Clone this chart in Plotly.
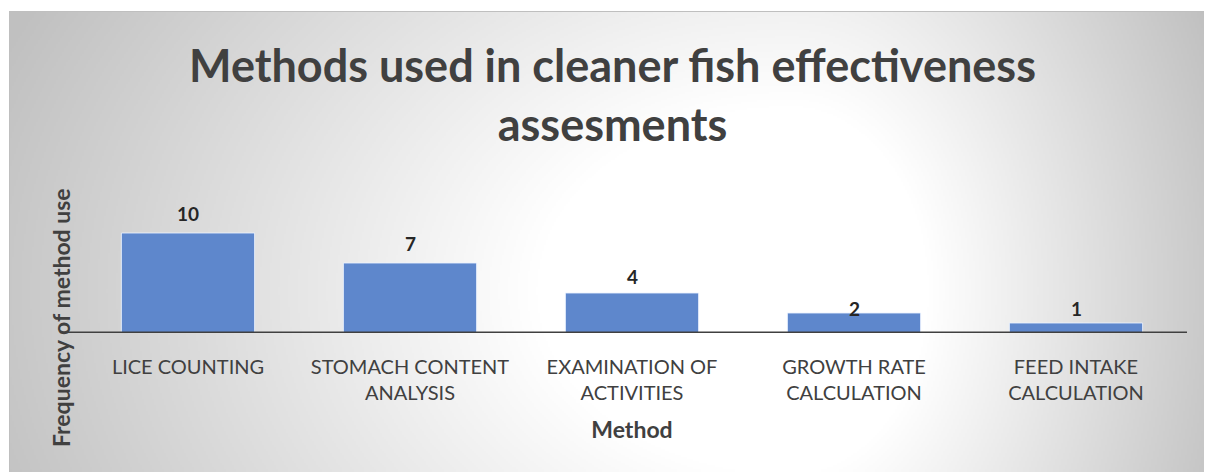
import base64
import struct
import zlib

import numpy as np
import plotly.graph_objects as go

# ---- data ----
categories = [
    "LICE COUNTING",
    "STOMACH CONTENT<br>ANALYSIS",
    "EXAMINATION OF<br>ACTIVITIES",
    "GROWTH RATE<br>CALCULATION",
    "FEED INTAKE<br>CALCULATION",
]
values = [10, 7, 4, 2, 1]
label_shift_px = [20, 20, 17, 5, 15]   # vertical offsets of value labels (style)

title_text = "Methods used in cleaner fish effectiveness<br>assesments"
x_title = "Method"
y_title = "Frequency of method use"

# ---- geometry ----
# the page body has an 8px margin, so the figure sits at (8, 8) of the window
OFF = 8
W, H = 1212 - OFF, 472 - OFF
ML, MR, MT, MB = 69, 25, 172, 139
PW = W - ML - MR
PH = H - MT - MB
YMAX = PH / 10.0


def px_x(page_px):
    return (page_px - OFF - ML) / PW


def px_y(page_py):
    return (H - MB - (page_py - OFF)) / PH


# ---- background gradient (decorative) ----
def gradient_png():
    sx, sy = 2, 2
    x0, y0, x1, y1 = 9, 11, 1212, 472
    w = (x1 - x0) // sx
    h = (y1 - y0) // sy
    xs = x0 + (np.arange(w) + 0.5) * sx
    ys = y0 + (np.arange(h) + 0.5) * sy
    X, Y = np.meshgrid(xs, ys)
    cx, cy = 790.0, 290.0
    dx = np.where(X < cx, (X - cx) / 770.0, (X - cx) / 420.0)
    dy = (Y - cy) / 560.0
    d = np.sqrt(dx ** 2 + dy ** 2)
    g = 255 - 54 * np.clip((d - 0.33) / 0.67, 0, None)
    g = np.clip(g, 192, 255).astype(np.uint8)
    raw = b"".join(b"\x00" + row.tobytes() for row in g)

    def chunk(t, data):
        return (struct.pack(">I", len(data)) + t + data
                + struct.pack(">I", zlib.crc32(t + data) & 0xFFFFFFFF))

    ihdr = struct.pack(">IIBBBBB", w, h, 8, 0, 0, 0, 0)
    png = (b"\x89PNG\r\n\x1a\n" + chunk(b"IHDR", ihdr)
           + chunk(b"IDAT", zlib.compress(raw, 9)) + chunk(b"IEND", b""))
    return "data:image/png;base64," + base64.b64encode(png).decode()


FONT = "Lato, 'Open Sans', sans-serif"

fig = go.Figure()
fig.add_trace(go.Bar(
    x=categories,
    y=values,
    marker=dict(color="#5E87CC", line=dict(color="rgba(235,242,255,0.85)", width=1)),
    hoverinfo="x+y",
))

for c, v, s in zip(categories, values, label_shift_px):
    fig.add_annotation(
        x=c, y=v, xref="x", yref="y", text=str(v), showarrow=False,
        yanchor="middle", yshift=s,
        font=dict(family=FONT, size=19, color="#262626", weight="bold"),
    )

# y-axis title
fig.add_annotation(
    x=px_x(61), y=px_y(318), xref="paper", yref="paper", text=y_title,
    textangle=-90, showarrow=False, xanchor="center", yanchor="middle",
    font=dict(family=FONT, size=23, color="#404040", weight="bold"),
)

# baseline axis line
fig.add_shape(type="line", xref="paper", yref="y", x0=px_x(67), x1=px_x(1187),
              y0=0, y1=0, line=dict(color="#404040", width=3), layer="above")

# chart border
fig.add_shape(type="rect", xref="paper", yref="paper",
              x0=px_x(9.5), x1=px_x(1215), y0=px_y(11.5), y1=px_y(475),
              line=dict(color="#bfbfbf", width=1), layer="below")

fig.add_layout_image(
    source=gradient_png(), xref="paper", yref="paper",
    x=px_x(9), y=px_y(11), sizex=(1212 - 9) / PW, sizey=(472 - 11) / PH,
    xanchor="left", yanchor="top", sizing="stretch", layer="below",
)

fig.update_layout(
    width=W, height=H,
    margin=dict(l=ML, r=MR, t=MT, b=MB, pad=0),
    paper_bgcolor="white",
    plot_bgcolor="rgba(0,0,0,0)",
    showlegend=False,
    bargap=0.4,
    title=dict(
        text=title_text, x=(612.5 - OFF) / W, xref="container", xanchor="center",
        y=1 - 74 / H, yref="container", yanchor="middle",
        font=dict(family=FONT, size=45, color="#404040", weight="bold"),
    ),
    xaxis=dict(
        range=[-0.5, 4.5], showgrid=False, zeroline=False, showline=False,
        ticks="", ticklabelstandoff=20,
        tickfont=dict(family=FONT, size=20, color="#404040"),
        title=dict(text=x_title, standoff=18,
                   font=dict(family=FONT, size=23, color="#404040", weight="bold")),
        fixedrange=True,
    ),
    yaxis=dict(
        range=[0, YMAX], visible=False, showgrid=False, zeroline=False,
        fixedrange=True,
    ),
)

fig.write_html("out.html")
